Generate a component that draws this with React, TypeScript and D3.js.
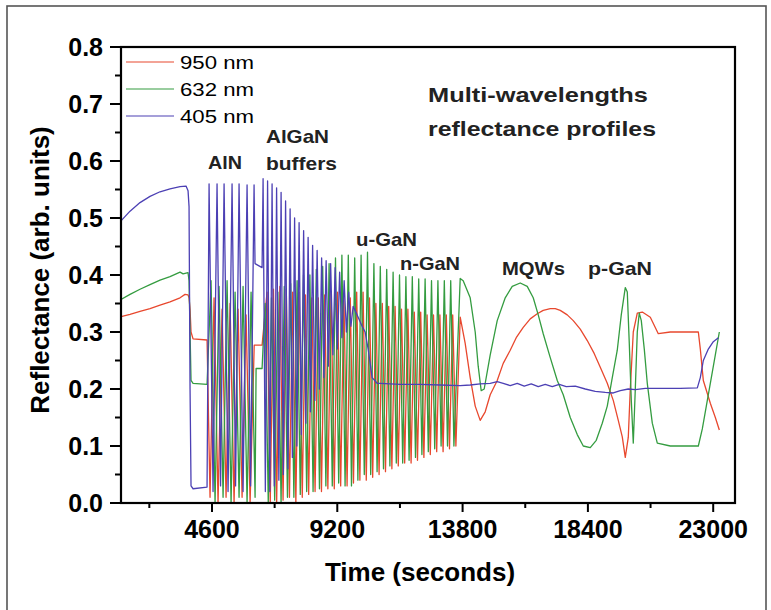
import React from 'react';
import * as d3 from 'd3';

type P = [number, number];

const red950: P[] = [
  [1260,0.327],[1591,0.331],[1958,0.336],[2325,0.341],[2693,0.347],[3060,0.353],[3427,0.360],[3611,0.366],[3721,0.365],[3758,0.360],[3795,0.340],[3831,0.300],[3905,0.288],[4419,0.286],
  [4529,0.01],[4676,0.36],[4823,0.0],[4970,0.34],[5117,0.01],[5264,0.35],[5411,0.0],[5558,0.34],[5705,0.01],[5852,0.33],[5999,0.0],[6150,0.277],[6439,0.277],
  [6622,0.37],[6739,0.0],[6857,0.375],[6974,0.0],[7092,0.38],[7209,0.005],[7327,0.375],[7444,0.01],[7562,0.37],[7679,0.0],[7797,0.37],[7914,0.01],[8032,0.365],[8149,0.015],[8267,0.36],[8384,0.02],[8502,0.36],[8619,0.02],[8737,0.365],[8854,0.025],[8972,0.37],[9089,0.025],[9207,0.37],[9324,0.03],[9442,0.365],[9559,0.03],[9677,0.36],[9794,0.035],[9912,0.37],[10029,0.04],[10147,0.37],[10264,0.04],[10382,0.36],[10499,0.045],[10617,0.35],[10734,0.05],[10852,0.35],[10969,0.055],[11087,0.345],[11204,0.06],[11322,0.345],[11439,0.065],[11557,0.34],[11674,0.07],[11792,0.34],[11909,0.07],[12027,0.335],[12144,0.075],[12262,0.335],[12379,0.08],[12497,0.33],[12614,0.085],[12732,0.33],[12849,0.09],[12967,0.33],[13084,0.09],[13202,0.33],[13319,0.095],[13437,0.33],[13554,0.1],
  [13712,0.326],[13895,0.28],[14079,0.22],[14263,0.17],[14446,0.145],[14630,0.16],[14814,0.19],[15071,0.215],[15291,0.245],[15548,0.268],[15769,0.29],[16026,0.308],[16283,0.323],[16540,0.332],[16760,0.338],[17018,0.341],[17201,0.341],[17385,0.338],[17642,0.33],[17862,0.32],[18119,0.305],[18377,0.285],[18634,0.262],[18854,0.238],[19111,0.21],[19331,0.18],[19515,0.145],[19662,0.116],[19772,0.08],[19882,0.115],[19956,0.2],[20066,0.3],[20213,0.333],[20397,0.335],[20691,0.326],[20984,0.297],[21425,0.3],[21903,0.3],[22454,0.3],[22527,0.27],[22637,0.215],[22894,0.175],[23078,0.15],[23225,0.128],
];

const green632: P[] = [
  [1260,0.357],[1591,0.366],[1958,0.375],[2325,0.383],[2693,0.391],[3060,0.397],[3427,0.405],[3540,0.402],[3721,0.404],[3758,0.39],[3795,0.3],[3831,0.215],[3905,0.21],[4419,0.208],
  [4566,0.39],[4713,0.0],[4860,0.38],[5007,0.01],[5154,0.39],[5301,0.0],[5448,0.37],[5594,0.01],[5741,0.38],[5888,0.0],[6035,0.37],[6182,0.01],[6219,0.236],[6439,0.236],
  [6549,0.35],[6666,0.0],[6784,0.36],[6901,0.005],[7019,0.37],[7136,0.0],[7254,0.38],[7371,0.01],[7489,0.385],[7606,0.01],[7724,0.39],[7841,0.015],[7959,0.40],[8076,0.02],[8194,0.40],[8311,0.02],[8429,0.41],[8546,0.025],[8664,0.415],[8781,0.03],[8899,0.42],[9016,0.03],[9134,0.43],[9251,0.035],[9369,0.435],[9486,0.03],[9604,0.435],[9721,0.03],[9839,0.43],[9956,0.04],[10074,0.435],[10191,0.05],[10309,0.44],[10426,0.05],[10544,0.42],[10661,0.055],[10779,0.415],[10896,0.06],[11014,0.41],[11131,0.065],[11249,0.405],[11366,0.07],[11484,0.40],[11601,0.07],[11719,0.397],[11836,0.075],[11954,0.397],[12071,0.08],[12189,0.393],[12306,0.085],[12424,0.393],[12541,0.09],[12659,0.39],[12776,0.095],[12894,0.39],[13011,0.1],[13129,0.39],[13246,0.1],[13364,0.39],[13481,0.1],
  [13712,0.394],[13822,0.39],[14079,0.36],[14263,0.30],[14373,0.24],[14483,0.197],[14593,0.20],[14814,0.26],[15071,0.32],[15365,0.36],[15622,0.38],[15916,0.386],[16173,0.38],[16393,0.36],[16577,0.33],[16760,0.297],[17018,0.255],[17275,0.215],[17495,0.19],[17752,0.15],[18009,0.12],[18230,0.10],[18487,0.097],[18707,0.11],[18927,0.14],[19111,0.17],[19295,0.22],[19478,0.268],[19625,0.33],[19772,0.378],[19846,0.37],[19919,0.28],[19993,0.18],[20066,0.105],[20140,0.20],[20213,0.30],[20286,0.333],[20360,0.32],[20470,0.27],[20580,0.21],[20764,0.14],[20948,0.105],[21425,0.10],[22160,0.10],[22454,0.10],[22600,0.13],[22747,0.17],[22894,0.21],[23078,0.26],[23225,0.30],
];

const blue405: P[] = [
  [1260,0.495],[1591,0.512],[1958,0.527],[2325,0.538],[2693,0.546],[3060,0.551],[3427,0.555],[3648,0.556],[3721,0.548],[3758,0.52],[3795,0.2],[3831,0.03],[3905,0.025],[4419,0.028],
  [4493,0.56],[4639,0.02],[4786,0.56],[4915,0.03],[5044,0.56],[5190,0.02],[5337,0.56],[5466,0.03],[5594,0.56],[5741,0.02],[5888,0.558],[6017,0.03],[6145,0.558],[6180,0.42],[6439,0.413],
  [6476,0.569],[6559,0.02],[6641,0.565],[6724,0.02],[6806,0.56],[6889,0.03],[6972,0.553],[7055,0.04],[7137,0.545],[7220,0.05],[7302,0.53],[7385,0.06],[7468,0.516],[7551,0.08],[7633,0.50],[7716,0.1],[7798,0.492],[7881,0.12],[7964,0.478],[8047,0.14],[8129,0.466],[8212,0.16],[8294,0.452],[8377,0.18],[8460,0.443],[8543,0.2],[8625,0.43],[8708,0.22],[8790,0.425],[8873,0.24],[8956,0.42],[9039,0.26],[9121,0.413],[9204,0.27],[9286,0.405],[9369,0.29],[9452,0.39],[9535,0.30],[9617,0.37],[9700,0.31],[9782,0.345],
  [9929,0.33],[10112,0.31],[10222,0.3],[10333,0.27],[10480,0.22],[10663,0.21],[10773,0.21],[11508,0.208],[12243,0.208],[12977,0.207],[13712,0.206],[14079,0.207],[14446,0.209],[14814,0.21],[15071,0.213],[15291,0.21],[15548,0.206],[15805,0.21],[16063,0.205],[16320,0.209],[16577,0.204],[16834,0.208],[17091,0.204],[17348,0.208],[17605,0.204],[17936,0.205],[18303,0.2],[18670,0.196],[19038,0.194],[19331,0.193],[19589,0.197],[19882,0.2],[20140,0.199],[20507,0.201],[21058,0.201],[21792,0.201],[22417,0.202],[22527,0.22],[22637,0.25],[22821,0.27],[23004,0.283],[23190,0.29],
];

const seriesNames = ['950 nm', '632 nm', '405 nm'];
const seriesColors = ['#e8482e', '#349c40', '#4c40b4'];
const xTicks = [4600, 9200, 13800, 18400, 23000];
const xMinorTicks = [2300, 6900, 11500, 16100, 20700];
const yTicks = [0, 0.1, 0.2, 0.3, 0.4, 0.5, 0.6, 0.7, 0.8];
const yMinorTicks = [0.05, 0.15, 0.25, 0.35, 0.45, 0.55, 0.65, 0.75];

const FONT = '"Liberation Sans", Arial, Helvetica, sans-serif';

export default function App() {
  const L = 121, R = 735, T = 47, B = 503;
  const x = d3.scaleLinear().domain([1260, 23800]).range([L, R]);
  const y = d3.scaleLinear().domain([0, 0.8]).range([B, T]);
  const line = d3.line<P>().x(d => x(d[0])).y(d => y(d[1]));
  const data = [red950, green632, blue405];

  const notes: { text: string; x: number; y: number; w: number; size: number }[] = [
    { text: 'Multi-wavelengths', x: 428, y: 102, w: 220, size: 21 },
    { text: 'reflectance profiles', x: 428, y: 136, w: 228, size: 21 },
    { text: 'AlN', x: 208, y: 169, w: 34, size: 19 },
    { text: 'AlGaN', x: 266, y: 143, w: 63, size: 19 },
    { text: 'buffers', x: 266, y: 170, w: 71, size: 19 },
    { text: 'u-GaN', x: 356, y: 246, w: 61, size: 19 },
    { text: 'n-GaN', x: 400, y: 270, w: 60, size: 19 },
    { text: 'MQWs', x: 502, y: 275, w: 63, size: 19 },
    { text: 'p-GaN', x: 588, y: 275, w: 64, size: 19 },
  ];

  return (
    <svg width={771} height={610} style={{ position: 'absolute', left: 0, top: 0, background: '#fff' }}
      fontFamily={FONT}>
      <rect x={0} y={0} width={771} height={610} fill="#fff" />
      <rect x={7} y={6} width={759} height={640} fill="none" stroke="#555" strokeWidth={1.6} />
      <defs>
        <clipPath id="plot"><rect x={L} y={T - 2} width={R - L} height={B - T + 2} /></clipPath>
      </defs>
      <g clipPath="url(#plot)">
        {data.map((d, i) => (
          <path key={i} d={line(d) || ''} fill="none" stroke={seriesColors[i]} strokeWidth={1.3}
            strokeLinejoin="round" />
        ))}
      </g>
      <rect x={L} y={T} width={R - L} height={B - T} fill="none" stroke="#000" strokeWidth={2.2} />
      {yTicks.map(v => (
        <g key={'y' + v}>
          <line x1={L - 11} x2={L} y1={y(v)} y2={y(v)} stroke="#000" strokeWidth={2} />
          <text x={103} y={y(v)} dy="0.36em" textAnchor="end" fontSize={25} fontWeight="bold">{v.toFixed(1)}</text>
        </g>
      ))}
      {yMinorTicks.map(v => (
        <line key={'ym' + v} x1={L - 6} x2={L} y1={y(v)} y2={y(v)} stroke="#000" strokeWidth={2} />
      ))}
      {xTicks.map(v => (
        <g key={'x' + v}>
          <line x1={x(v)} x2={x(v)} y1={B} y2={B + 9} stroke="#000" strokeWidth={2} />
          <text x={x(v)} y={538} textAnchor="middle" fontSize={25} fontWeight="bold">{v}</text>
        </g>
      ))}
      {xMinorTicks.map(v => (
        <line key={'xm' + v} x1={x(v)} x2={x(v)} y1={B} y2={B + 5} stroke="#000" strokeWidth={2} />
      ))}
      <text x={420} y={581} textAnchor="middle" fontSize={26} fontWeight="bold">Time (seconds)</text>
      <text transform="translate(49,270) rotate(-90)" textAnchor="middle" fontSize={26} fontWeight="bold">Reflectance (arb. units)</text>
      {seriesNames.map((n, i) => (
        <g key={n}>
          <line x1={126} x2={174} y1={62 + i * 27} y2={62 + i * 27} stroke={seriesColors[i]} strokeWidth={1.2} />
          <text x={180} y={62 + i * 27} dy="0.36em" fontSize={19} textLength={74} lengthAdjust="spacingAndGlyphs">{n}</text>
        </g>
      ))}
      {notes.map(n => (
        <text key={n.text} x={n.x} y={n.y} fontSize={n.size} fontWeight="bold" fill="#222"
          textLength={n.w} lengthAdjust="spacingAndGlyphs">{n.text}</text>
      ))}
    </svg>
  );
}
